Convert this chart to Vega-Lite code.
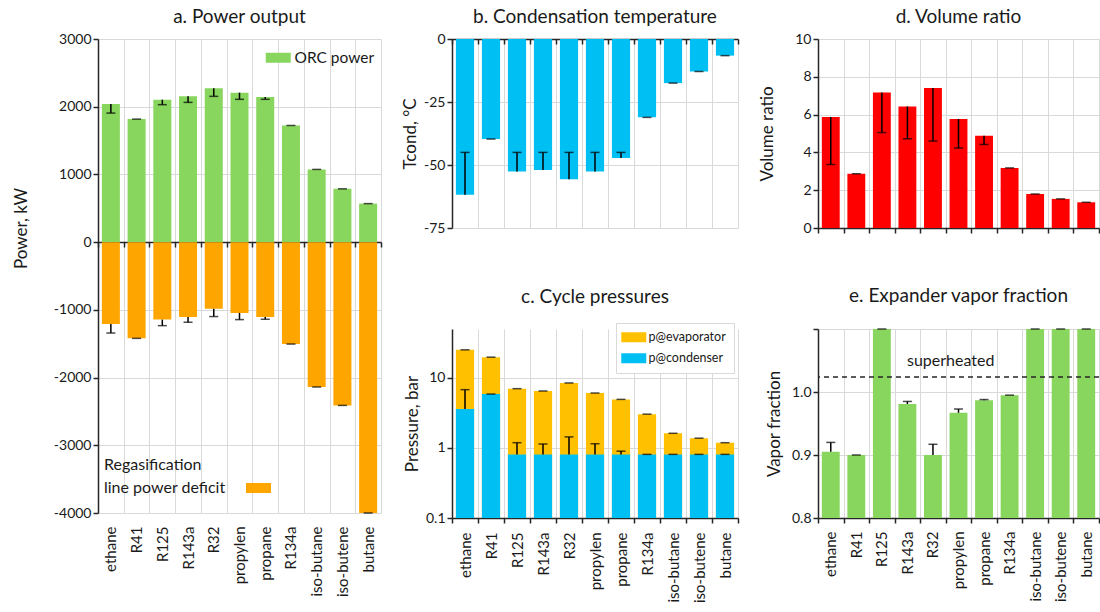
{
  "$schema": "https://vega.github.io/schema/vega-lite/v6.json",
  "background": "white",
  "padding": {"left": 12, "top": 8, "right": 0, "bottom": 0},
  "autosize": {"type": "pad"},
  "datasets": {
    "fluids": [
      {"name": "ethane", "orc": 2040, "orc_e": 1906, "def": -1208, "def_e": -1342, "tc": -61.8, "tc_e": -45, "pc": 3.59, "pc_e": 6.8, "pe": 25.2, "vr": 5.87, "vr_e": 3.36, "vf": 0.905, "vf_e": 0.92},
      {"name": "R41", "orc": 1817, "orc_e": 1817, "def": -1421, "def_e": -1421, "tc": -39.7, "tc_e": -39.7, "pc": 5.89, "pc_e": 5.89, "pe": 19.8, "vr": 2.87, "vr_e": 2.87, "vf": 0.9, "vf_e": 0.9},
      {"name": "R125", "orc": 2104, "orc_e": 2030, "def": -1144, "def_e": -1233, "tc": -52.6, "tc_e": -45, "pc": 0.81, "pc_e": 1.19, "pe": 7.03, "vr": 7.17, "vr_e": 5.05, "vf": 1.1, "vf_e": 1.1},
      {"name": "R143a", "orc": 2153, "orc_e": 2064, "def": -1104, "def_e": -1183, "tc": -52.0, "tc_e": -45, "pc": 0.81, "pc_e": 1.14, "pe": 6.51, "vr": 6.43, "vr_e": 4.72, "vf": 0.981, "vf_e": 0.985},
      {"name": "R32", "orc": 2272, "orc_e": 2153, "def": -985, "def_e": -1099, "tc": -55.7, "tc_e": -45, "pc": 0.81, "pc_e": 1.44, "pe": 8.48, "vr": 7.41, "vr_e": 4.6, "vf": 0.9, "vf_e": 0.917},
      {"name": "propylen", "orc": 2208, "orc_e": 2109, "def": -1045, "def_e": -1144, "tc": -52.6, "tc_e": -45, "pc": 0.81, "pc_e": 1.15, "pe": 6.09, "vr": 5.77, "vr_e": 4.23, "vf": 0.967, "vf_e": 0.973},
      {"name": "propane", "orc": 2144, "orc_e": 2109, "def": -1104, "def_e": -1139, "tc": -47.2, "tc_e": -45, "pc": 0.81, "pc_e": 0.9, "pe": 4.94, "vr": 4.88, "vr_e": 4.42, "vf": 0.987, "vf_e": 0.988},
      {"name": "R134a", "orc": 1723, "orc_e": 1723, "def": -1505, "def_e": -1505, "tc": -31.1, "tc_e": -31.1, "pc": 0.81, "pc_e": 0.81, "pe": 3.04, "vr": 3.18, "vr_e": 3.18, "vf": 0.995, "vf_e": 0.995},
      {"name": "iso-butane", "orc": 1074, "orc_e": 1074, "def": -2139, "def_e": -2139, "tc": -17.5, "tc_e": -17.5, "pc": 0.81, "pc_e": 0.81, "pe": 1.62, "vr": 1.8, "vr_e": 1.8, "vf": 1.1, "vf_e": 1.1},
      {"name": "iso-butene", "orc": 787, "orc_e": 787, "def": -2411, "def_e": -2411, "tc": -12.9, "tc_e": -12.9, "pc": 0.81, "pc_e": 0.81, "pe": 1.38, "vr": 1.54, "vr_e": 1.54, "vf": 1.1, "vf_e": 1.1},
      {"name": "butane", "orc": 569, "orc_e": 569, "def": -4000, "def_e": -4000, "tc": -6.6, "tc_e": -6.6, "pc": 0.81, "pc_e": 0.81, "pe": 1.19, "vr": 1.36, "vr_e": 1.36, "vf": 1.1, "vf_e": 1.1}
    ]
  },
  "config": {
    "font": "Lato",
    "view": {"stroke": null},
    "axis": {
      "domainColor": "#262626", "domainWidth": 1.5, "tickColor": "#262626", "tickWidth": 1.5, "tickSize": 5,
      "labelColor": "#1a1a1a", "titleColor": "#1a1a1a", "gridColor": "#d9d9d9", "gridWidth": 1,
      "labelFont": "Lato", "titleFont": "Lato", "labelFontSize": 14, "titleFontSize": 17, "titleFontWeight": "normal", "labelOverlap": false
    },
    "title": {"font": "Lato", "fontSize": 19, "fontWeight": "normal", "color": "#1a1a1a", "frame": "group"},
    "legend": {"labelFont": "Lato", "titleFont": "Lato", "labelColor": "#1a1a1a", "titleColor": "#1a1a1a"}
  },
  "resolve": {"scale": {"color": "independent", "fill": "independent"}},
  "spacing": 19,
  "hconcat": [
    {
      "data": {"name": "fluids"},
      "width": 283,
      "height": 474,
      "title": {"text": "a. Power output", "offset": 5},
      "encoding": {
        "x": {"field": "name", "type": "nominal", "sort": null, "title": null,
          "scale": {"paddingInner": 0, "paddingOuter": 0},
          "axis": {"offset": -271, "labelPadding": 279, "labelAngle": -90, "labelAlign": "right", "labelBaseline": "middle", "tickBand": "extent", "grid": true, "labelFontSize": 15}}
      },
      "layer": [
        {
          "mark": {"type": "bar", "width": {"band": 0.7}},
          "encoding": {
            "y": {"field": "orc", "type": "quantitative", "title": "Power, kW",
              "scale": {"domain": [-4000, 3000], "nice": false},
              "axis": {"values": [-4000, -3000, -2000, -1000, 0, 1000, 2000, 3000], "labelExpr": "datum.value + ''", "grid": true, "titlePadding": 23, "titleY": 189}},
            "color": {"datum": "ORC power", "scale": {"range": ["#88d65e"]},
              "legend": {"orient": "none", "legendX": 165, "legendY": 11, "title": null, "padding": 0, "labelFontSize": 15.5,
                "symbolType": "M-2.5,-1H2.5V1H-2.5Z", "symbolSize": 100, "symbolStrokeWidth": 0, "symbolOffset": 7.5, "labelOffset": 8.5}}
          }
        },
        {
          "mark": {"type": "bar", "width": {"band": 0.7}},
          "encoding": {
            "y": {"field": "def", "type": "quantitative", "title": "Power, kW",
              "axis": {"values": [-4000, -3000, -2000, -1000, 0, 1000, 2000, 3000], "labelExpr": "datum.value + ''", "grid": true, "titlePadding": 23, "titleY": 189}},
            "fill": {"datum": "line power deficit", "scale": {"range": ["#ffa500"]},
              "legend": {"orient": "none", "legendX": 6, "legendY": 418, "title": "Regasification", "titleFontSize": 16, "titleFontWeight": "normal", "titlePadding": 7, "padding": 0, "labelFontSize": 16,
                "symbolType": "M-2.5,-1H2.5V1H-2.5Z", "symbolSize": 100, "symbolStrokeWidth": 0, "symbolOffset": 146.5, "labelOffset": -162.5}}
          }
        },
        {
          "mark": {"type": "rule", "color": "#000", "strokeWidth": 1.5},
          "encoding": {"y": {"field": "orc", "type": "quantitative", "title": "Power, kW",
              "axis": {"values": [-4000, -3000, -2000, -1000, 0, 1000, 2000, 3000], "labelExpr": "datum.value + ''", "grid": true, "titlePadding": 23, "titleY": 189}}, "y2": {"field": "orc_e"}}
        },
        {
          "mark": {"type": "tick", "color": "#000", "thickness": 1.5, "size": 9},
          "encoding": {"y": {"field": "orc_e", "type": "quantitative", "title": "Power, kW",
              "axis": {"values": [-4000, -3000, -2000, -1000, 0, 1000, 2000, 3000], "labelExpr": "datum.value + ''", "grid": true, "titlePadding": 23, "titleY": 189}}}
        },
        {
          "mark": {"type": "rule", "color": "#000", "strokeWidth": 1.5},
          "encoding": {"y": {"field": "def", "type": "quantitative", "title": "Power, kW",
              "axis": {"values": [-4000, -3000, -2000, -1000, 0, 1000, 2000, 3000], "labelExpr": "datum.value + ''", "grid": true, "titlePadding": 23, "titleY": 189}}, "y2": {"field": "def_e"}}
        },
        {
          "mark": {"type": "tick", "color": "#000", "thickness": 1.5, "size": 9},
          "encoding": {"y": {"field": "def_e", "type": "quantitative", "title": "Power, kW",
              "axis": {"values": [-4000, -3000, -2000, -1000, 0, 1000, 2000, 3000], "labelExpr": "datum.value + ''", "grid": true, "titlePadding": 23, "titleY": 189}}}
        }
      ]
    },
    {
      "bounds": "flush",
      "spacing": 101,
      "resolve": {"scale": {"color": "independent"}, "legend": {"color": "independent"}},
      "vconcat": [
        {
          "data": {"name": "fluids"},
          "width": 286,
          "height": 189,
          "title": {"text": "b. Condensation temperature", "offset": 5},
          "encoding": {
            "x": {"field": "name", "type": "nominal", "sort": null, "title": null,
              "scale": {"paddingInner": 0, "paddingOuter": 0},
              "axis": {"offset": -189, "labels": false, "tickBand": "extent", "grid": true}}
          },
          "layer": [
            {
              "mark": {"type": "bar", "width": {"band": 0.7}, "color": "#00bff3"},
              "encoding": {
                "y": {"field": "tc", "type": "quantitative", "title": "Tcond, °C",
                  "scale": {"domain": [-75, 0], "nice": false},
                  "axis": {"values": [-75, -50, -25, 0], "labelExpr": "datum.value + ''", "grid": true, "titlePadding": 4}}
              }
            },
            {
              "mark": {"type": "rule", "color": "#000", "strokeWidth": 1.5},
              "encoding": {"y": {"field": "tc", "type": "quantitative", "title": "Tcond, °C",
                  "axis": {"values": [-75, -50, -25, 0], "labelExpr": "datum.value + ''", "grid": true, "titlePadding": 4}}, "y2": {"field": "tc_e"}}
            },
            {
              "mark": {"type": "tick", "color": "#000", "thickness": 1.5, "size": 9},
              "encoding": {"y": {"field": "tc_e", "type": "quantitative", "title": "Tcond, °C",
                  "axis": {"values": [-75, -50, -25, 0], "labelExpr": "datum.value + ''", "grid": true, "titlePadding": 4}}}
            }
          ]
        },
        {
          "data": {"name": "fluids"},
          "width": 286,
          "height": 189,
          "title": {"text": "c. Cycle pressures", "offset": 16},
          "encoding": {
            "x": {"field": "name", "type": "nominal", "sort": null, "title": null,
              "scale": {"paddingInner": 0, "paddingOuter": 0},
              "axis": {"labelPadding": 9, "labelAngle": -90, "labelAlign": "right", "labelBaseline": "middle", "tickBand": "extent", "grid": true, "labelFontSize": 15}}
          },
          "layer": [
            {
              "mark": {"type": "bar", "width": {"band": 0.7}},
              "encoding": {
                "y": {"field": "pe", "type": "quantitative", "title": "Pressure, bar",
                  "scale": {"type": "log", "domain": [0.1, 50], "nice": false},
                  "axis": {"values": [0.1, 1, 10], "labelExpr": "datum.value + ''", "grid": true, "titlePadding": 4}},
                "y2": {"datum": 0.1},
                "color": {"datum": "p@evaporator",
                  "scale": {"domain": ["p@evaporator", "p@condenser"], "range": ["#ffc000", "#00bff3"]},
                  "legend": {"orient": "none", "legendX": 164, "legendY": -6, "title": null, "padding": 8, "strokeColor": "#d9d9d9", "fillColor": "white",
                    "labelFontSize": 12.5, "rowPadding": 8,
                    "symbolType": "M-2.5,-1H2.5V1H-2.5Z", "symbolSize": 100, "symbolStrokeWidth": 0, "symbolOffset": 3.5, "labelOffset": 8.5}}
              }
            },
            {
              "mark": {"type": "bar", "width": {"band": 0.7}},
              "encoding": {
                "y": {"field": "pc", "type": "quantitative", "title": "Pressure, bar",
                  "axis": {"values": [0.1, 1, 10], "labelExpr": "datum.value + ''", "grid": true, "titlePadding": 4}},
                "y2": {"datum": 0.1},
                "color": {"datum": "p@condenser"}
              }
            },
            {
              "mark": {"type": "tick", "color": "#000", "thickness": 1.5, "size": 9},
              "encoding": {"y": {"field": "pe", "type": "quantitative", "title": "Pressure, bar",
                  "axis": {"values": [0.1, 1, 10], "labelExpr": "datum.value + ''", "grid": true, "titlePadding": 4}}}
            },
            {
              "mark": {"type": "rule", "color": "#000", "strokeWidth": 1.5},
              "encoding": {"y": {"field": "pc", "type": "quantitative", "title": "Pressure, bar",
                  "axis": {"values": [0.1, 1, 10], "labelExpr": "datum.value + ''", "grid": true, "titlePadding": 4}}, "y2": {"field": "pc_e"}}
            },
            {
              "mark": {"type": "tick", "color": "#000", "thickness": 1.5, "size": 9},
              "encoding": {"y": {"field": "pc_e", "type": "quantitative", "title": "Pressure, bar",
                  "axis": {"values": [0.1, 1, 10], "labelExpr": "datum.value + ''", "grid": true, "titlePadding": 4}}}
            }
          ]
        }
      ]
    },
    {
      "bounds": "flush",
      "spacing": 101,
      "vconcat": [
        {
          "data": {"name": "fluids"},
          "width": 281,
          "height": 189,
          "title": {"text": "d. Volume ratio", "offset": 5},
          "encoding": {
            "x": {"field": "name", "type": "nominal", "sort": null, "title": null,
              "scale": {"paddingInner": 0, "paddingOuter": 0},
              "axis": {"labels": false, "tickBand": "extent", "grid": true}}
          },
          "layer": [
            {
              "mark": {"type": "bar", "width": {"band": 0.7}, "color": "#ff0000"},
              "encoding": {
                "y": {"field": "vr", "type": "quantitative", "title": "Volume ratio",
                  "scale": {"domain": [0, 10], "nice": false},
                  "axis": {"values": [0, 2, 4, 6, 8, 10], "grid": true, "titlePadding": 18}}
              }
            },
            {
              "mark": {"type": "rule", "color": "#000", "strokeWidth": 1.5},
              "encoding": {"y": {"field": "vr", "type": "quantitative", "title": "Volume ratio",
                  "axis": {"values": [0, 2, 4, 6, 8, 10], "grid": true, "titlePadding": 18}}, "y2": {"field": "vr_e"}}
            },
            {
              "mark": {"type": "tick", "color": "#000", "thickness": 1.5, "size": 9},
              "encoding": {"y": {"field": "vr_e", "type": "quantitative", "title": "Volume ratio",
                  "axis": {"values": [0, 2, 4, 6, 8, 10], "grid": true, "titlePadding": 18}}}
            }
          ]
        },
        {
          "width": 281,
          "height": 189,
          "title": {"text": "e. Expander vapor fraction", "offset": 16},
          "layer": [
            {
              "data": {"name": "fluids"},
              "mark": {"type": "bar", "width": {"band": 0.7}, "color": "#88d65e", "clip": true},
              "encoding": {
                "x": {"field": "name", "type": "nominal", "sort": null, "title": null,
                  "scale": {"paddingInner": 0, "paddingOuter": 0},
                  "axis": {"labelPadding": 8, "labelAngle": -90, "labelAlign": "right", "labelBaseline": "middle", "tickBand": "extent", "grid": true, "labelFontSize": 15}},
                "y": {"field": "vf", "type": "quantitative", "title": "Vapor fraction",
                  "scale": {"domain": [0.8, 1.1], "nice": false, "zero": false},
                  "axis": {"values": [0.8, 0.9, 1.0, 1.1], "labelExpr": "datum.value > 1.05 ? '' : format(datum.value, '.1f')", "grid": true, "titlePadding": 8}},
                "y2": {"datum": 0.8}
              }
            },
            {
              "data": {"name": "fluids"},
              "mark": {"type": "rule", "color": "#000", "strokeWidth": 1.5},
              "encoding": {
                "x": {"field": "name", "type": "nominal", "sort": null},
                "y": {"field": "vf", "type": "quantitative", "title": "Vapor fraction",
                  "axis": {"values": [0.8, 0.9, 1.0, 1.1], "labelExpr": "datum.value > 1.05 ? '' : format(datum.value, '.1f')", "grid": true, "titlePadding": 8}},
                "y2": {"field": "vf_e"}}
            },
            {
              "data": {"name": "fluids"},
              "mark": {"type": "tick", "color": "#000", "thickness": 1.5, "size": 9},
              "encoding": {
                "x": {"field": "name", "type": "nominal", "sort": null},
                "y": {"field": "vf_e", "type": "quantitative", "title": "Vapor fraction",
                  "axis": {"values": [0.8, 0.9, 1.0, 1.1], "labelExpr": "datum.value > 1.05 ? '' : format(datum.value, '.1f')", "grid": true, "titlePadding": 8}}}
            },
            {
              "data": {"values": [{"label": "superheated"}]},
              "mark": {"type": "rule", "color": "#262626", "strokeWidth": 1.5, "strokeDash": [5, 4]},
              "encoding": {"y": {"datum": 1.024, "type": "quantitative"}}
            },
            {
              "data": {"values": [{"label": "superheated"}]},
              "mark": {"type": "text", "fontSize": 16, "color": "#1a1a1a", "baseline": "middle", "dx": 5},
              "encoding": {
                "text": {"field": "label"},
                "x": {"datum": "propylen", "bandPosition": 0},
                "y": {"datum": 1.049, "type": "quantitative"}
              }
            }
          ]
        }
      ]
    }
  ]
}
